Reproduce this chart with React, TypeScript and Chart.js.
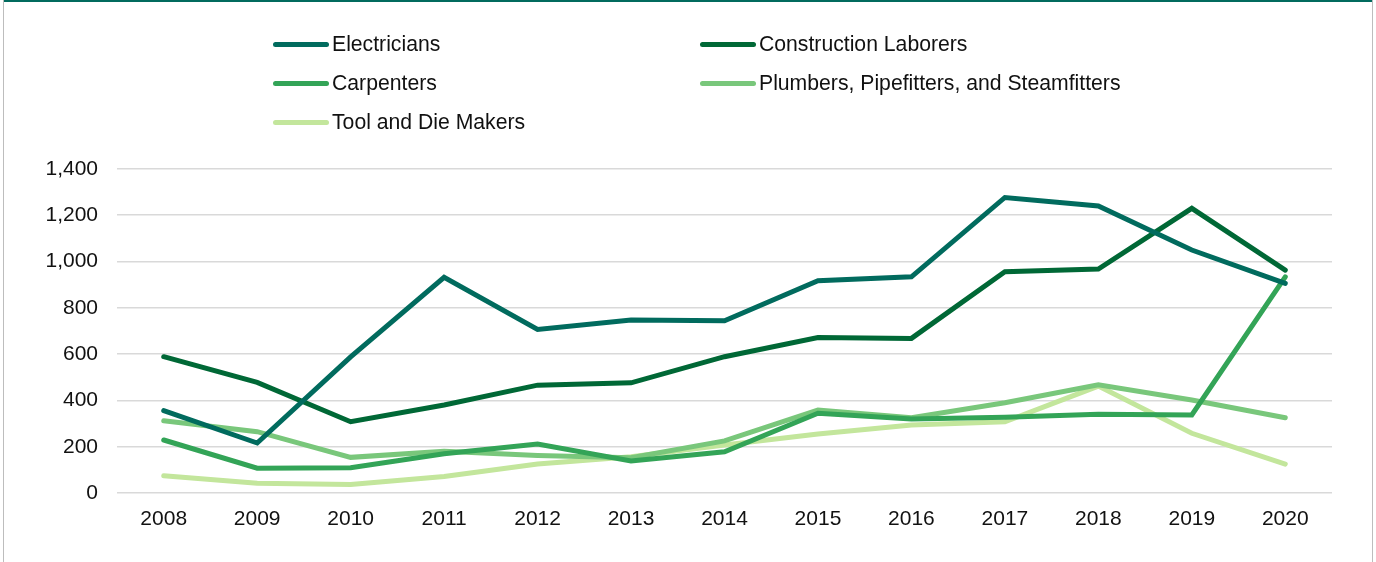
import React, { useEffect, useRef } from "react";
import { Chart, registerables } from "chart.js";

Chart.register(...registerables);

const years = ["2008","2009","2010","2011","2012","2013","2014","2015","2016","2017","2018","2019","2020"];
const electricians = [356, 216, 588, 932, 707, 748, 744, 917, 934, 1277, 1240, 1050, 906];
const constructionLaborers = [589, 478, 308, 380, 466, 476, 589, 672, 668, 956, 968, 1230, 963];
const carpenters = [229, 107, 109, 170, 212, 138, 178, 345, 320, 327, 340, 337, 934];
const plumbers = [312, 265, 154, 180, 162, 152, 225, 358, 325, 390, 468, 402, 325];
const toolDieMakers = [75, 42, 37, 71, 125, 157, 207, 255, 294, 308, 462, 258, 125];
const yTicks = [0, 200, 400, 600, 800, 1000, 1200, 1400];

const seriesNames = ["Electricians", "Construction Laborers", "Carpenters", "Plumbers, Pipefitters, and Steamfitters", "Tool and Die Makers"];
const seriesValues = [electricians, constructionLaborers, carpenters, plumbers, toolDieMakers];
const seriesColors = ["#016b5e", "#006836", "#33a457", "#79c77b", "#c3e69c"];

const FONT = "'Liberation Sans', Arial, sans-serif";

export default function App() {
  const ref = useRef<HTMLCanvasElement | null>(null);

  useEffect(() => {
    if (!ref.current) return;
    const chart = new Chart(ref.current, {
      type: "line",
      data: {
        labels: years,
        datasets: seriesNames.map((name, i) => ({
          label: name,
          data: seriesValues[i],
          borderColor: seriesColors[i],
          backgroundColor: seriesColors[i],
          borderWidth: 5,
          pointRadius: 0,
          tension: 0,
          borderCapStyle: "round" as const,
          borderJoinStyle: "miter" as const,
          fill: false,
        })),
      },
      options: {
        responsive: false,
        animation: false,
        devicePixelRatio: 1,
        layout: { padding: { left: 0, right: 44, top: 169, bottom: 0 } },
        plugins: { legend: { display: false }, tooltip: { enabled: false } },
        scales: {
          x: {
            offset: true,
            grid: { display: false, drawTicks: false },
            border: { display: false },
            ticks: { color: "#111", font: { family: FONT, size: 21 }, padding: 14, maxRotation: 0 },
            afterFit: (s: any) => { s.height = 69; },
          },
          y: {
            min: 0,
            max: 1400,
            afterBuildTicks: (s: any) => { s.ticks = yTicks.map((v) => ({ value: v })); },
            grid: { color: "#d9d9d9", lineWidth: 1.6, drawTicks: false },
            border: { display: false },
            ticks: {
              color: "#111",
              font: { family: FONT, size: 21 },
              padding: 19,
              callback: (v: any) => Number(v).toLocaleString("en-US"),
            },
            afterFit: (s: any) => { s.width = 117; },
          },
        },
      },
    });
    return () => chart.destroy();
  }, []);

  const legendPos = [
    { x: 273, y: 44 },
    { x: 700, y: 44 },
    { x: 273, y: 83 },
    { x: 700, y: 83 },
    { x: 273, y: 122 },
  ];

  return (
    <div style={{ position: "fixed", left: 0, top: 0, width: 1376, height: 562, background: "#fff", overflow: "hidden" }}>
      <canvas ref={ref} width={1376} height={562} style={{ position: "absolute", left: 0, top: 0, width: 1376, height: 562 }} />
      <div style={{ position: "absolute", left: 3, top: 0, width: 1370, height: 2, background: "#016b5e" }} />
      <div style={{ position: "absolute", left: 3, top: 0, width: 1, height: 562, background: "#bdbdbd" }} />
      <div style={{ position: "absolute", left: 1372, top: 0, width: 1, height: 562, background: "#bdbdbd" }} />
      {seriesNames.map((name, i) => (
        <div key={name} style={{ position: "absolute", left: legendPos[i].x, top: legendPos[i].y - 14, height: 28, display: "flex", alignItems: "center", whiteSpace: "nowrap" }}>
          <div style={{ width: 56, height: 5, borderRadius: 3, background: seriesColors[i], marginRight: 3 }} />
          <span style={{ fontFamily: FONT, fontSize: 21.2, color: "#111", lineHeight: "28px" }}>{name}</span>
        </div>
      ))}
    </div>
  );
}
